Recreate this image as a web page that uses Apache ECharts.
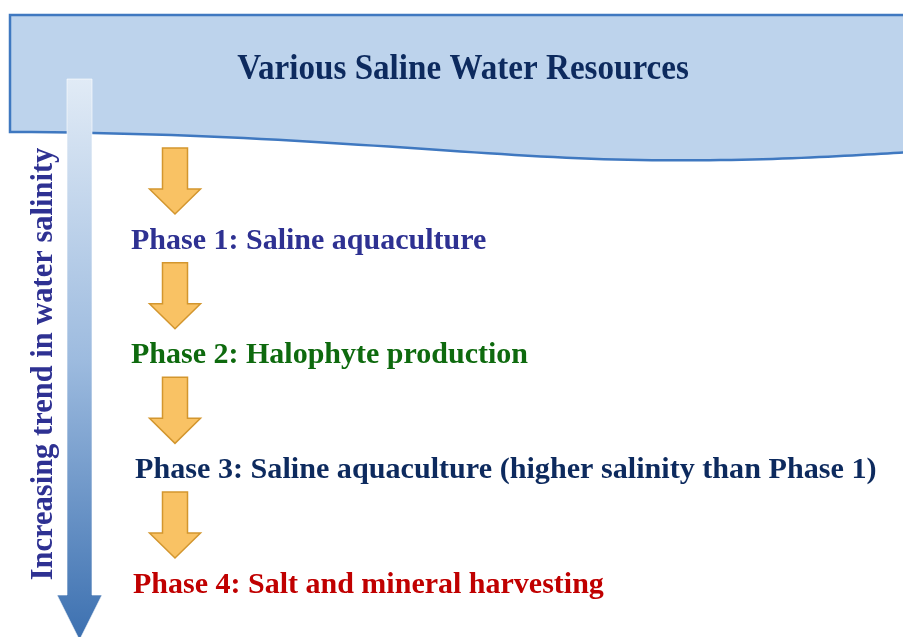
<!DOCTYPE html>
<html>
<head>
<meta charset="utf-8">
<script src="https://cdn.jsdelivr.net/npm/echarts@6/dist/echarts.min.js"></script>
<style>html,body{margin:0;padding:0;background:#fff;}#c{width:903px;height:637px;}</style>
</head>
<body>
<div id="c"></div>
<script>
// ---- data ----
const titleText = 'Various Saline Water Resources';
const axisText = 'Increasing trend in water salinity';
const phaseLabels = [
  'Phase 1: Saline aquaculture',
  'Phase 2: Halophyte production',
  'Phase 3: Saline aquaculture (higher salinity than Phase 1)',
  'Phase 4: Salt and mineral harvesting'
];
const phaseOrder = [1, 2, 3, 4];

// ---- styles ----
const phaseColors = ['#2E3192', '#0E6A0E', '#0D2A5E', '#C00000'];
const phaseScaleX = [1, 1, 1.005, 1];
const phaseDx = [0, 0, 4, 2];
const serif = '"Liberation Serif", "Times New Roman", serif';

// banner outline (decorative wave shape)
function cubic(p0, p1, p2, p3, n) {
  const pts = [];
  for (let k = 0; k <= n; k++) {
    const t = k / n, u = 1 - t;
    pts.push([
      u*u*u*p0[0] + 3*u*u*t*p1[0] + 3*u*t*t*p2[0] + t*t*t*p3[0],
      u*u*u*p0[1] + 3*u*u*t*p1[1] + 3*u*t*t*p2[1] + t*t*t*p3[1]
    ]);
  }
  return pts;
}
const bannerPts = [[10, 15], [910, 15], [910, 152]]
  .concat(cubic([910, 152], [860, 155], [760, 162], [640, 160], 30).slice(1))
  .concat(cubic([640, 160], [480, 158], [300, 133], [10, 132], 40).slice(1));

const chart = echarts.init(document.getElementById('c'), null, {renderer: 'canvas'});

const option = {
  animation: false,
  backgroundColor: '#ffffff',
  grid: {left: 131, right: 20, top: 241, bottom: 52},
  xAxis: {type: 'value', min: 0, max: 1, show: false},
  yAxis: {type: 'value', min: 1, max: 4, inverse: true, show: false},
  graphic: [
    {
      type: 'polygon', z: 1,
      shape: {points: bannerPts},
      style: {fill: '#BDD3EC', stroke: '#3F78C0', lineWidth: 2.5}
    },
    {
      type: 'text', z: 2, x: 463, y: 70, scaleX: 0.92,
      style: {text: titleText, font: 'bold 36px ' + serif, fill: '#0D2A5E', align: 'center', verticalAlign: 'middle'}
    },
    {
      type: 'polygon', z: 3,
      shape: {points: [[67, 79], [92, 79], [92, 595], [102, 595], [79.5, 640], [57, 595], [67, 595]]},
      style: {
        fill: {type: 'linear', x: 0, y: 0, x2: 0, y2: 1, colorStops: [
          {offset: 0, color: '#E1EBF6'},
          {offset: 0.5, color: '#9DBBDF'},
          {offset: 1, color: '#3C70B0'}
        ]},
        stroke: 'rgba(255,255,255,0.6)', lineWidth: 1
      }
    },
    {
      type: 'text', z: 3, x: 44, y: 364, rotation: Math.PI / 2,
      style: {text: axisText, font: 'bold 30.5px ' + serif, fill: '#2E3192', align: 'center', verticalAlign: 'middle'}
    }
  ],
  series: [{
    type: 'custom',
    coordinateSystem: 'cartesian2d',
    data: phaseOrder.map((v, i) => [0, v, i]),
    renderItem: function (params, api) {
      const p = api.coord([0, api.value(1)]);
      const i = params.dataIndex;
      const ax = p[0] + 44, y = p[1];
      const top = y - 93, base = y - 52, tip = y - 27;
      return {
        type: 'group',
        children: [
          {
            type: 'polygon',
            shape: {points: [[ax - 12.5, top], [ax + 12.5, top], [ax + 12.5, base], [ax + 25.5, base], [ax, tip], [ax - 25.5, base], [ax - 12.5, base]]},
            style: {fill: '#F9C264', stroke: '#D3962E', lineWidth: 1.5}
          },
          {
            type: 'text', x: p[0] + phaseDx[i], y: y, scaleX: phaseScaleX[i],
            style: {text: phaseLabels[i], font: 'bold 30px ' + serif, fill: phaseColors[i], align: 'left', verticalAlign: 'middle'}
          }
        ]
      };
    }
  }]
};
chart.setOption(option);
</script>
</body>
</html>
